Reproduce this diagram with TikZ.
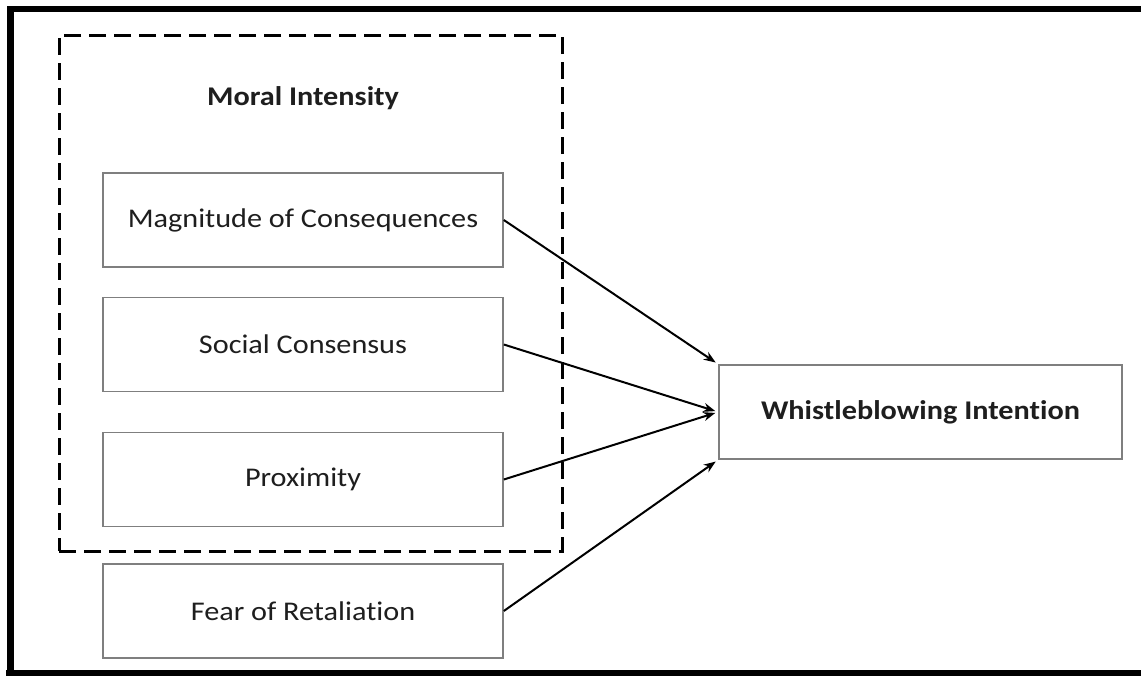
\documentclass[tikz,border=0pt]{standalone}
\usepackage{fontspec}
\setmainfont{Carlito}[FakeStretch=1.12,Ligatures={NoCommon}]
\usetikzlibrary{arrows.meta}
\definecolor{boxgray}{HTML}{7F7F7F}
\definecolor{txt}{HTML}{1E1E1E}
\begin{document}
\begin{tikzpicture}[x=1pt,y=-1pt,
  factor/.style={draw=boxgray,line width=1.6pt,minimum width=400pt,minimum height=94pt,
    inner sep=0pt,font=\fontsize{27}{31}\selectfont,text=txt},
  groupbox/.style={draw=black,line width=3pt,dash pattern=on 17pt off 8pt,
    minimum width=503pt,minimum height=516pt,inner sep=0pt},
  link/.style={draw=black,line width=2pt,-{Stealth[length=12pt,width=9pt]},shorten >=3pt}]
\useasboundingbox (0,0) rectangle (1141,675);
\fill[white] (0,0) rectangle (1141,675);
% outer frame (top, left, bottom)
\draw[line width=6pt] (10,9) -- (1141,9);
\draw[line width=7pt] (10,6) -- (10,675);
\draw[line width=6pt] (6,673) -- (1141,673);
% moral intensity group
\node[groupbox] (mi) at (310.5,293) {};
\node[font=\bfseries\fontsize{27}{31}\selectfont,text=txt] (mit) at (303,98) {Moral Intensity};
\node[factor] (mc) at (303,220) {Magnitude of Consequences};
\node[factor] (sc) at (303,344.5) {Social Consensus};
\node[factor] (px) at (303,479.5) {Proximity};
\node[factor] (fr) at (303,611) {Fear of Retaliation};
\node[factor,minimum width=403pt,font=\bfseries\fontsize{27}{31}\selectfont] (wi) at (920.5,412) {Whistleblowing Intention};
\draw[link] (mc.east) -- (wi.north west);
\draw[link] (sc.east) -- (wi.west);
\draw[link] (px.east) -- (wi.west);
\draw[link] (fr.east) -- (wi.south west);
\end{tikzpicture}
\end{document}
